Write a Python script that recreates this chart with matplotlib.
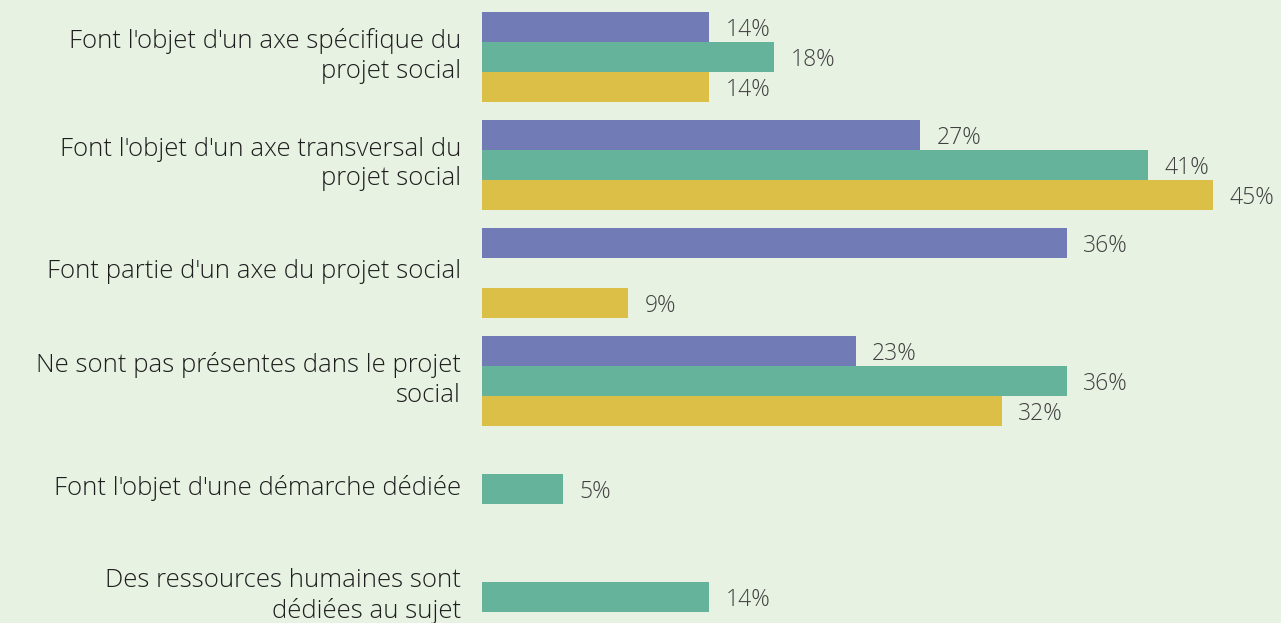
import matplotlib
matplotlib.use("Agg")
import matplotlib.pyplot as plt
import numpy as np

categories = [
    "Font l'objet d'un axe spécifique du\nprojet social",
    "Font l'objet d'un axe transversal du\nprojet social",
    "Font partie d'un axe du projet social",
    "Ne sont pas présentes dans le projet\nsocial",
    "Font l'objet d'une démarche dédiée",
    "Des ressources humaines sont\ndédiées au sujet",
]
series_purple = [14, 27, 36, 23, None, None]
series_green = [18, 41, None, 36, 5, 14]
series_yellow = [14, 45, 9, 32, None, None]

colors = ["#717bb5", "#66b39b", "#dcbf47"]
bg = "#e8f2e3"

W, H = 1281, 623
fig = plt.figure(figsize=(W / 100, H / 100), dpi=100, facecolor=bg)
left = 482 / W
ax = fig.add_axes([left, 0, 1 - left, 1])
ax.set_facecolor(bg)

y = np.arange(len(categories))
bh = 30 / 108
font = "Open Sans"

for k, (vals, col) in enumerate(zip([series_purple, series_green, series_yellow], colors)):
    off = (k - 1) * bh
    for i, v in enumerate(vals):
        if v is None:
            continue
        ax.barh(y[i] + off, v, height=bh, color=col, edgecolor="none")
        ax.text(v + 1.0, y[i] + off + 0.028, f"{v}%", va="center", ha="left",
                fontsize=16.5, color="#404040", family=font, fontweight="light")

ax.set_xlim(0, (W - 482) / 16.24)
ax.set_ylim((H - 57) / 108, -57 / 108)
ax.axis("off")

for i, c in enumerate(categories):
    ax.text(-21 / 16.24, y[i] - 0.01, c, ha="right", va="center", fontsize=18.5,
            color="#1e1e1e", family=font, fontweight="light", linespacing=1.22,
            transform=ax.transData, clip_on=False)

fig.savefig("out.png", dpi=100, facecolor=bg)
